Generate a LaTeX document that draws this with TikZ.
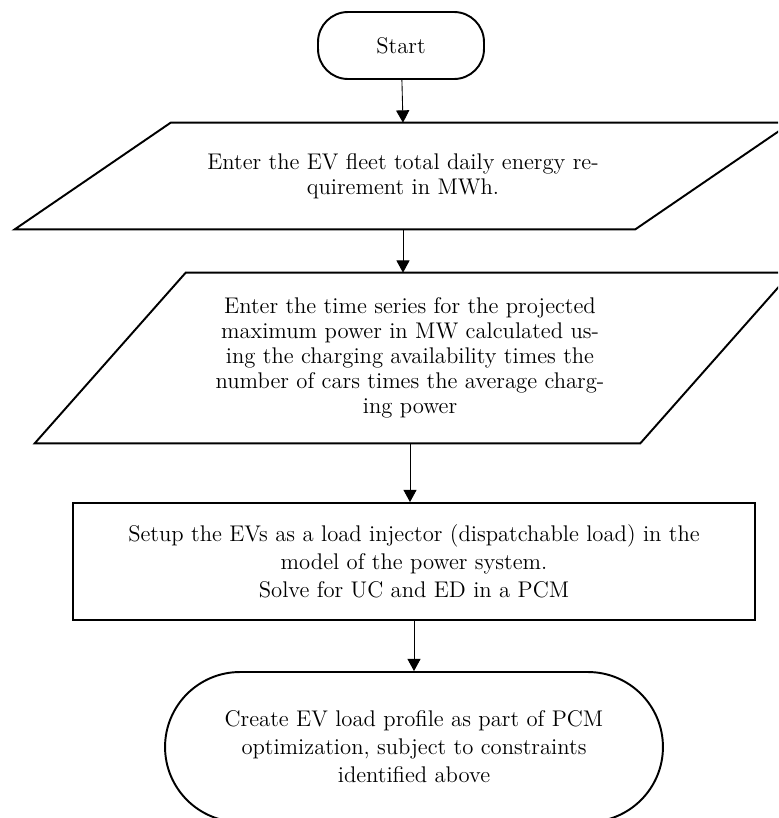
\documentclass[tikz,border=0pt]{standalone}
\usetikzlibrary{arrows.meta}

\begin{document}
\begin{tikzpicture}[x=0.02cm, y=-0.02cm,
    txt/.style={font=\fontsize{12.9}{14.2}\selectfont, align=center, inner sep=0pt},
    border/.style={line width=1.1pt},
    box/.style={draw, border, txt},
    flow/.style={-{Triangle[length=7pt,width=7.5pt]}, line width=.5pt},
  ]
  \clip (0,0) rectangle (778,818);

  \node[box, rounded corners=0.6cm, minimum width=3.32cm, minimum height=1.34cm]
    (start) at (401,45.5) {Start};

  % input boxes: body node, slanted outline drawn around it
  \node[txt, minimum width=12.4cm, minimum height=2.12cm]
    (energy) at (403,176) {Enter the EV fleet total daily energy re-\\quirement in MWh.};
  \draw[border] ([xshift=1.56cm]energy.north west) -- ([xshift=1.56cm]energy.north east)
    -- ([xshift=-1.56cm]energy.south east) -- ([xshift=-1.56cm]energy.south west) -- cycle;

  \node[txt, minimum width=12.1cm, minimum height=3.4cm]
    (power) at (410,358) {Enter the time series for the projected\\
      maximum power in MW calculated us-\\
      ing the charging availability times the\\
      number of cars times the average charg-\\
      ing power};
  \draw[border] ([xshift=1.57cm]power.north west) -- ([xshift=1.57cm]power.north east)
    -- ([xshift=-1.45cm]power.south east) -- ([xshift=-1.45cm]power.south west) -- cycle;

  \node[box, minimum width=13.64cm, minimum height=2.34cm,
        font=\fontsize{12.9}{15.9}\selectfont]
    (setup) at (414,561.5) {Setup the EVs as a load injector (dispatchable load) in the\\
      model of the power system.\\
      Solve for UC and ED in a PCM};

  \node[box, rounded corners=1.5cm, minimum width=9.96cm, minimum height=3cm,
        font=\fontsize{12.9}{15.9}\selectfont]
    (profile) at (414,747) {Create EV load profile as part of PCM\\
      optimization, subject to constraints\\
      identified above};

  \draw[flow] (start) -- (energy.north);
  \draw[flow] (energy.south) -- (energy.south |- power.north);
  \draw[flow] (power.south) -- (power.south |- setup.north);
  \draw[flow] (setup) -- (profile);
\end{tikzpicture}
\end{document}
